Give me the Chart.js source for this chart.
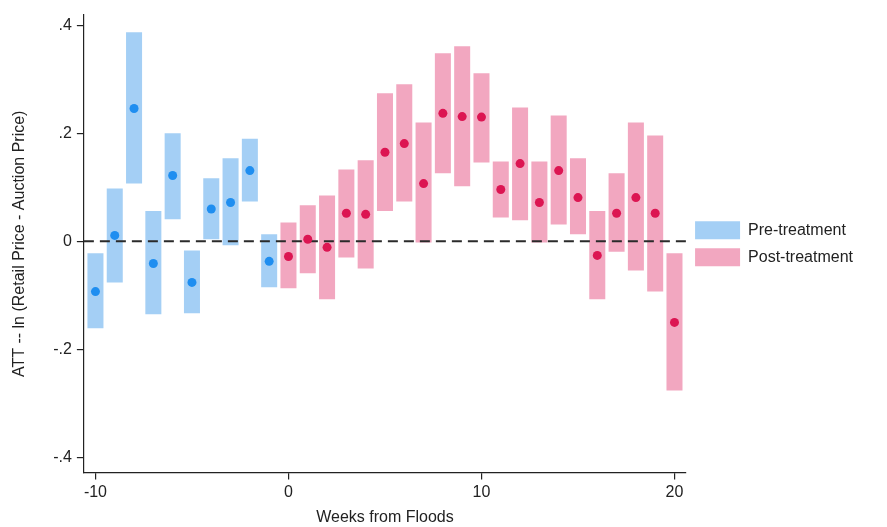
<!DOCTYPE html>
<html>
<head>
<meta charset="utf-8">
<script src="https://cdn.jsdelivr.net/npm/chart.js@4"></script>
<style>
  html, body { margin: 0; padding: 0; background: #fff; }
  #wrap { width: 887px; height: 527px; }
</style>
</head>
<body>
<div id="wrap"><canvas id="c"></canvas></div>
<script>
/* DATA */
const preWeeks = [-10, -9, -8, -7, -6, -5, -4, -3, -2, -1];
const preEst   = [-0.093, 0.011, 0.246, -0.041, 0.122, -0.076, 0.060, 0.072, 0.131, -0.037];
const preLo    = [-0.161, -0.076, 0.107, -0.135, 0.041, -0.133, 0.004, -0.007, 0.074, -0.085];
const preHi    = [-0.022, 0.098, 0.387, 0.056, 0.200, -0.017, 0.117, 0.154, 0.190, 0.013];

const postWeeks = [0, 1, 2, 3, 4, 5, 6, 7, 8, 9, 10, 11, 12, 13, 14, 15, 16, 17, 18, 19, 20];
const postEst   = [-0.028, 0.004, -0.011, 0.052, 0.050, 0.165, 0.181, 0.107, 0.237, 0.231, 0.230,
                   0.096, 0.144, 0.072, 0.131, 0.081, -0.026, 0.052, 0.081, 0.052, -0.150];
const postLo    = [-0.087, -0.059, -0.107, -0.030, -0.050, 0.056, 0.074, -0.002, 0.126, 0.102, 0.146,
                   0.044, 0.039, -0.002, 0.031, 0.013, -0.107, -0.019, -0.054, -0.093, -0.276];
const postHi    = [0.035, 0.067, 0.085, 0.133, 0.150, 0.274, 0.291, 0.220, 0.348, 0.361, 0.311,
                   0.148, 0.248, 0.148, 0.233, 0.154, 0.056, 0.126, 0.220, 0.196, -0.022];

const xTicks = [-10, 0, 10, 20];
const yTicks = [-0.4, -0.2, 0, 0.2, 0.4];

/* STYLE */
const FONT = "'Liberation Sans', Arial, Helvetica, sans-serif";
const INK = "#222";
const preBar = "#a4cff5", preDot = "#1f8ef0";
const postBar = "#f2a7c0", postDot = "#dc1552";

const fmtY = v => v === 0 ? "0" : String(+v.toFixed(1)).replace("0.", ".");

/* dashed zero line, drawn over the bars but under the dots */
const zeroLine = {
  id: "zeroLine",
  afterDatasetDraw(chart, args) {
    if (args.index !== 2) return;
    const { ctx, chartArea, scales } = chart;
    const y = scales.y.getPixelForValue(0);
    ctx.save();
    ctx.strokeStyle = "#2a2a2a";
    ctx.lineWidth = 2;
    ctx.setLineDash([10, 6]);
    ctx.beginPath();
    ctx.moveTo(chartArea.left, y);
    ctx.lineTo(chartArea.right, y);
    ctx.stroke();
    ctx.restore();
  }
};

const dots = (weeks, est) => weeks.map((w, i) => ({ x: w, y: est[i] }));
const bars = (weeks, lo, hi) => weeks.map((w, i) => ({ x: w, y: [lo[i], hi[i]] }));

new Chart(document.getElementById("c"), {
  type: "bar",
  data: {
    datasets: [
      { type: "line", label: "pre-est", data: dots(preWeeks, preEst), showLine: false,
        pointRadius: 4.5, pointBackgroundColor: preDot, pointBorderWidth: 0 },
      { type: "line", label: "post-est", data: dots(postWeeks, postEst), showLine: false,
        pointRadius: 4.5, pointBackgroundColor: postDot, pointBorderWidth: 0 },
      { label: "Pre-treatment", data: bars(preWeeks, preLo, preHi), backgroundColor: preBar,
        borderWidth: 0, barPercentage: 0.83, categoryPercentage: 1, grouped: false },
      { label: "Post-treatment", data: bars(postWeeks, postLo, postHi), backgroundColor: postBar,
        borderWidth: 0, barPercentage: 0.83, categoryPercentage: 1, grouped: false }
    ]
  },
  options: {
    responsive: true,
    maintainAspectRatio: false,
    animation: false,
    layout: { padding: { top: 15, right: 24, left: 10, bottom: 0 } },
    plugins: {
      tooltip: { enabled: false },
      legend: {
        position: "right",
        fullSize: false,
        labels: {
          filter: item => item.datasetIndex >= 2,
          boxWidth: 45, boxHeight: 18, padding: 9,
          color: INK, font: { family: FONT, size: 16 }
        }
      }
    },
    scales: {
      x: {
        type: "linear", min: -10.6, max: 20.6, offset: false,
        afterBuildTicks: s => { s.ticks = xTicks.map(v => ({ value: v })); },
        grid: { offset: false, drawOnChartArea: false, drawTicks: true, tickLength: 7, color: INK, lineWidth: 1.2 },
        border: { color: INK, width: 1.2 },
        ticks: { color: INK, font: { family: FONT, size: 16 }, padding: 3, maxRotation: 0 },
        title: { display: true, text: "Weeks from Floods", color: INK,
                 font: { family: FONT, size: 16 }, padding: { top: 3, bottom: 0 } }
      },
      y: {
        min: -0.428, max: 0.419,
        afterBuildTicks: s => { s.ticks = yTicks.map(v => ({ value: v })); },
        grid: { drawOnChartArea: false, drawTicks: true, tickLength: 7, color: INK, lineWidth: 1.2 },
        border: { color: INK, width: 1.2 },
        ticks: { color: INK, font: { family: FONT, size: 16 }, padding: 5, callback: fmtY },
        title: { display: true, text: "ATT -- ln (Retail Price - Auction Price)", color: INK,
                 font: { family: FONT, size: 16 }, padding: { top: 0, bottom: 19 } }
      }
    }
  },
  plugins: [zeroLine]
});
</script>
</body>
</html>
